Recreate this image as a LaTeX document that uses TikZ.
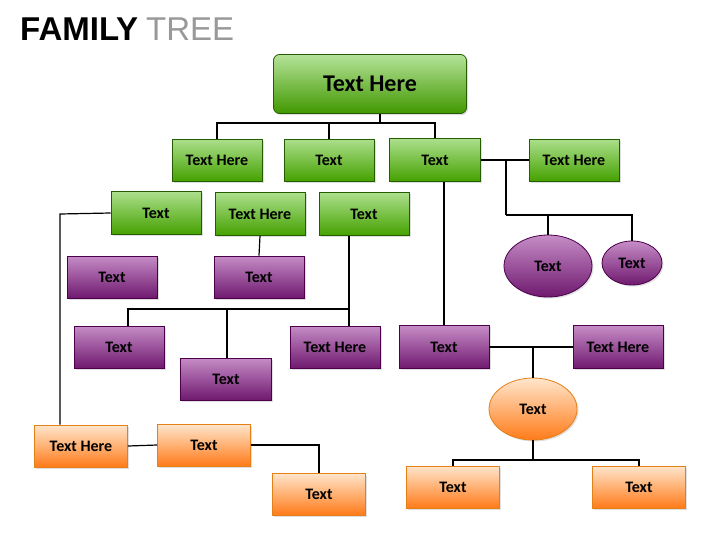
\documentclass[tikz,border=0pt]{standalone}
\usepackage{fontspec}
\setmainfont{Carlito}
\newfontfamily\titlefont{Liberation Sans}
\usetikzlibrary{shapes.geometric,shadows}
\begin{document}
\begin{tikzpicture}[x=1pt,y=-1pt,
  base/.style={draw, line width=0.8pt, font=\bfseries\fontsize{16}{18}\selectfont, inner sep=0pt,
    drop shadow={opacity=0.25,shadow xshift=1.5pt,shadow yshift=-1.5pt}},
  gbox/.style={base, rectangle, draw=green!30!black!70!olive, top color=green!45!olive!45!white, bottom color=green!40!olive!90!black, minimum width=90pt, minimum height=42pt},
  pbox/.style={base, rectangle, draw=violet!60!black, top color=violet!45!white, bottom color=violet!75!black!90, minimum width=90pt, minimum height=42pt},
  obox/.style={base, rectangle, draw=orange!60!brown, top color=orange!20!white, bottom color=orange!85!red!90, minimum width=93pt, minimum height=42pt},
  pell/.style={base, ellipse, draw=violet!60!black, top color=violet!45!white, bottom color=violet!75!black!90},
  oell/.style={base, ellipse, draw=orange!60!brown, top color=orange!20!white, bottom color=orange!85!red!90},
  link/.style={draw=black, line width=1.2pt}]
\definecolor{gtop}{HTML}{A9D166}
\useasboundingbox (0,0) rectangle (728,546);
\node[anchor=base west, inner sep=0pt] (title) at (20,40) {\titlefont\fontsize{33}{36}\selectfont\textbf{FAMILY}\hspace{8pt}\textcolor{gray!80}{TREE}};
% green
\node[gbox, rounded corners=6pt, minimum width=193pt, minimum height=59pt, font=\bfseries\fontsize{24}{28}\selectfont, top color=green!45!olive!40!white, bottom color=green!40!olive!85!black] (root) at (370,84) {Text Here};
\node[gbox] (g1) at (217,160) {Text Here};
\node[gbox] (g2) at (329,160) {Text};
\node[gbox, minimum width=91pt, minimum height=43pt] (g3) at (435,160) {Text};
\node[gbox] (g4) at (574,160) {Text Here};
\node[gbox, minimum height=43pt] (g5) at (156,213) {Text};
\node[gbox, minimum height=43pt] (g6) at (260,214) {Text Here};
\node[gbox, minimum height=43pt] (g7) at (364,214) {Text};
% purple
\node[pbox] (p1) at (112,277) {Text};
\node[pbox] (p2) at (259,277) {Text};
\node[pell, minimum width=88pt, minimum height=62pt] (e1) at (548,266) {Text};
\node[pell, minimum width=60pt, minimum height=44pt] (e2) at (632,263) {Text};
\node[pbox] (p3) at (119,347) {Text};
\node[pbox] (p4) at (335,347) {Text Here};
\node[pbox, minimum width=91pt] (p5) at (226,379) {Text};
\node[pbox, minimum height=43pt] (p6) at (444,347) {Text};
\node[pbox, minimum height=43pt] (p7) at (618,347) {Text Here};
% orange
\node[oell, minimum width=88pt, minimum height=62pt] (oe) at (533,409) {Text};
\node[obox] (o1) at (81,446) {Text Here};
\node[obox] (o2) at (204,445) {Text};
\node[obox] (o3) at (319,494) {Text};
\node[obox] (o4) at (453,487) {Text};
\node[obox] (o5) at (639,487) {Text};
% connectors
\coordinate (r1) at (380,123);
\draw[link] (root.south -| r1) -- (r1);
\draw[link] (g1.north) |- (r1) -| (g3.north);
\draw[link] (g2.north) -- (g2.north |- r1);
\coordinate (s1) at (506,215);
\draw[link] (g3.east) -- (g4.west);
\draw[link] (s1 |- g4.west) -- (s1);
\draw[link] (e1.north) |- (s1) -| (e2.north);
\draw[link] (g3.south -| p6.north) -- (p6.north);
\coordinate (s2) at (60,214);
\draw[link] (g5.west) -- (s2) -- (s2 |- o1.north);
\draw[link] (g6.south) -- (p2.north);
\coordinate (s3) at (349,309);
\draw[link] (g7.south -| s3) -- (s3);
\draw[link] (p3.north -| 128,0) |- (s3) -- (p4.north -| s3);
\draw[link] (p5.north -| 227,0) -- (227,309);
\draw[link] (p6.east) -- (p7.west);
\draw[link] (oe.north) -- (oe.north |- p6.east);
\coordinate (s4) at (533,460);
\draw[link] (oe.south) -- (s4);
\draw[link] (o4.north) |- (s4) -| (o5.north);
\draw[link] (o1.east) -- (o2.west);
\draw[link] (o2.east) -| (o3.north);
\end{tikzpicture}
\end{document}
